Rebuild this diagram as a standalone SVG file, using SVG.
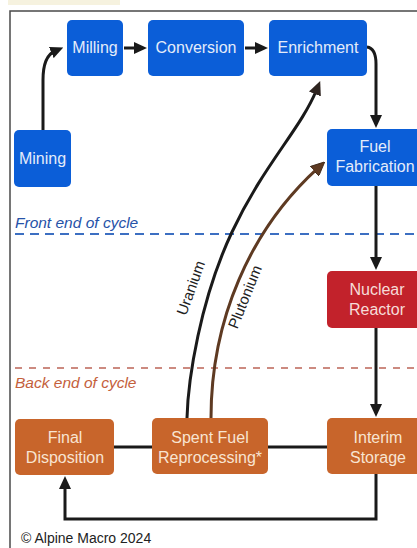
<svg xmlns="http://www.w3.org/2000/svg" width="417" height="548" viewBox="0 0 417 548">
<defs>
<style>
.box{stroke:none}
.blue{fill:#0b5ed8}
.red{fill:#c2222b}
.orange{fill:#c8652b}
.lbl{font-family:"Liberation Sans",Arial,sans-serif;font-size:16px;text-anchor:middle}
.lb{fill:#e4ecfa}
.lr{fill:#f6dcd8}
.lo{fill:#f8e4d2}
.conn{fill:none;stroke:#1a1a1a;stroke-width:3}
.sec{font-family:"Liberation Sans",Arial,sans-serif;font-size:15.5px;font-style:italic}
.curve-lbl{font-family:"Liberation Sans",Arial,sans-serif;font-size:15px;fill:#222;text-anchor:middle}
</style>
<marker id="ah" viewBox="0 0 13 12" refX="4" refY="6" markerWidth="13" markerHeight="12" markerUnits="userSpaceOnUse" orient="auto">
<path d="M0,0 L13,6 L0,12 z" fill="#1a1a1a"/>
</marker>
<marker id="ahu" viewBox="0 0 13 12" refX="4" refY="6" markerWidth="14" markerHeight="13" markerUnits="userSpaceOnUse" orient="auto">
<path d="M0,0 L13,6 L0,12 z" fill="#2e2420"/>
</marker>
<marker id="ahp" viewBox="0 0 13 12" refX="4" refY="6" markerWidth="14" markerHeight="13" markerUnits="userSpaceOnUse" orient="auto">
<path d="M0,0 L13,6 L0,12 z" fill="#5e3a22" stroke="#3a2618" stroke-width="0.8"/>
</marker>
</defs>
<rect width="417" height="548" fill="#ffffff"/>
<rect x="8" y="0" width="112" height="5" fill="#f6f2df"/>
<g id="frame">
<path d="M10,548 L10,11 L417,11" fill="none" stroke="#4a4a4a" stroke-width="1.5"/>
</g>
<g id="sections">
<line x1="15" y1="234" x2="417" y2="234" stroke="#3c6fc2" stroke-width="2" stroke-dasharray="9,6"/>
<text class="sec" x="15" y="228" fill="#2652a8">Front end of cycle</text>
<line x1="15" y1="368" x2="417" y2="368" stroke="#cc8a80" stroke-width="2" stroke-dasharray="7,7"/>
<text class="sec" x="15" y="388" fill="#c4603c">Back end of cycle</text>
</g>
<g id="connectors">
<path class="conn" d="M43,130 L43,80 C43,62 48,54 55,51" marker-end="url(#ah)"/>
<path class="conn" d="M124,48 L138,48" marker-end="url(#ah)"/>
<path class="conn" d="M245,48 L259,48" marker-end="url(#ah)"/>
<path class="conn" d="M367,47 C374,48 376,54 376,64 L376,119" marker-end="url(#ah)"/>
<path class="conn" d="M376,186 L376,261" marker-end="url(#ah)"/>
<path class="conn" d="M376,328 L376,408" marker-end="url(#ah)"/>
<path class="conn" d="M376,474 L376,519 L65,519 L65,485" marker-end="url(#ah)"/>
<path class="conn" d="M114,447 L152,447"/>
<path class="conn" d="M268,447 L327,447"/>
<path id="uranium" fill="none" stroke="#1a1a1a" stroke-width="3" d="M187,418 C188,380 200,300 232,232 S300,130 316.5,90" marker-end="url(#ahu)"/>
<path id="plutonium" fill="none" stroke="#5e3a22" stroke-width="3" d="M211,418 C211,320 250,230 317.6,168.4" marker-end="url(#ahp)"/>
<text class="curve-lbl" transform="translate(191,288) rotate(-70)" x="0" y="5">Uranium</text>
<text class="curve-lbl" transform="translate(245,297) rotate(-68)" x="0" y="5">Plutonium</text>
</g>
<g id="milling"><rect class="box blue" x="67" y="20" width="56" height="56" rx="5"/><text class="lbl lb" x="95" y="53">Milling</text></g>
<g id="conversion"><rect class="box blue" x="148" y="20" width="96" height="56" rx="5"/><text class="lbl lb" x="196" y="53">Conversion</text></g>
<g id="enrichment"><rect class="box blue" x="269" y="20" width="98" height="56" rx="5"/><text class="lbl lb" x="318" y="53">Enrichment</text></g>
<g id="mining"><rect class="box blue" x="14" y="130" width="57" height="57" rx="5"/><text class="lbl lb" x="42.5" y="164">Mining</text></g>
<g id="fuel-fabrication"><rect class="box blue" x="327" y="129" width="100" height="57" rx="5"/><text class="lbl lb" x="375" y="152">Fuel</text><text class="lbl lb" x="375" y="172">Fabrication</text></g>
<g id="nuclear-reactor"><rect class="box red" x="327" y="271" width="100" height="57" rx="5"/><text class="lbl lr" x="377" y="295">Nuclear</text><text class="lbl lr" x="377" y="315">Reactor</text></g>
<g id="interim-storage"><rect class="box orange" x="327" y="418" width="100" height="56" rx="5"/><text class="lbl lo" x="378" y="443">Interim</text><text class="lbl lo" x="378" y="463">Storage</text></g>
<g id="spent-fuel"><rect class="box orange" x="152" y="418" width="116" height="56" rx="5"/><text class="lbl lo" x="210" y="443">Spent Fuel</text><text class="lbl lo" x="210" y="463">Reprocessing*</text></g>
<g id="final-disposition"><rect class="box orange" x="15" y="419" width="99" height="56" rx="5"/><text class="lbl lo" x="65" y="443">Final</text><text class="lbl lo" x="65" y="463">Disposition</text></g>
<text x="21" y="543" font-family="'Liberation Sans',Arial,sans-serif" font-size="14" fill="#222">© Alpine Macro 2024</text>
</svg>
